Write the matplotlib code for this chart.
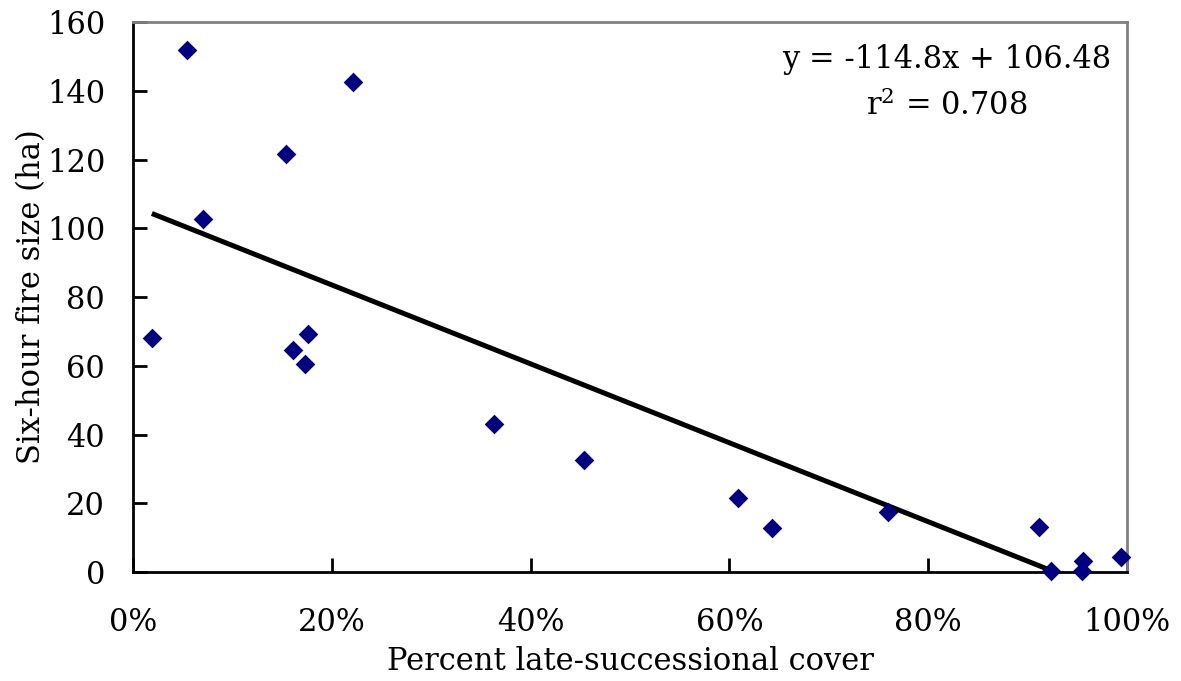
import numpy as np
import matplotlib.pyplot as plt
from matplotlib.ticker import PercentFormatter

# percent late-successional cover (fraction) and six-hour fire size (ha)
cover = [0.019, 0.054, 0.070, 0.154, 0.161, 0.173, 0.176, 0.221, 0.363,
         0.454, 0.609, 0.643, 0.760, 0.911, 0.924, 0.956, 0.955, 0.994]
fire_size = [68.1, 151.9, 102.7, 121.6, 64.6, 60.5, 69.2, 142.5, 43.1,
             32.6, 21.5, 12.8, 17.5, 13.2, 0.3, 3.1, 0.2, 4.3]
slope, intercept = -114.8, 106.48
r2 = 0.708

x_ticks = [0, 0.2, 0.4, 0.6, 0.8, 1.0]
y_ticks = [0, 20, 40, 60, 80, 100, 120, 140, 160]

plt.rcParams['font.family'] = ['DejaVu Serif']

fig = plt.figure(figsize=(11.81, 6.81), dpi=100)
ax = fig.add_axes([0.1126, 0.160, 0.8417, 0.8077])

ax.scatter(cover, fire_size, marker='D', s=100, color='#000080', zorder=3,
           linewidths=0, clip_on=False)

xs = np.array([min(cover), max(cover)])
ax.plot(xs, slope * xs + intercept, color='black', lw=3.6, zorder=2,
        solid_capstyle='butt')

ax.set_xlim(0, 1)
ax.set_ylim(0, 160)
ax.set_xticks(x_ticks)
ax.set_yticks(y_ticks)
ax.xaxis.set_major_formatter(PercentFormatter(1.0, decimals=0))

ax.tick_params(direction='in', length=10, width=2, labelsize=22)
ax.tick_params(axis='x', pad=25)
ax.tick_params(axis='y', pad=20)

for side in ['left', 'bottom']:
    ax.spines[side].set_linewidth(2)
    ax.spines[side].set_color('black')
for side in ['top', 'right']:
    ax.spines[side].set_linewidth(2)
    ax.spines[side].set_color('#808080')

ax.set_xlabel('Percent late-successional cover', fontsize=22, labelpad=6)
ax.set_ylabel('Six-hour fire size (ha)', fontsize=22, labelpad=0)

ax.text(0.819, 0.96, f'y = {slope}x + {intercept}\n$\\mathregular{{r^2}}$ = {r2}',
        transform=ax.transAxes, ha='center', va='top', fontsize=22,
        multialignment='center', linespacing=1.6)

fig.savefig('out.png', dpi=100)
